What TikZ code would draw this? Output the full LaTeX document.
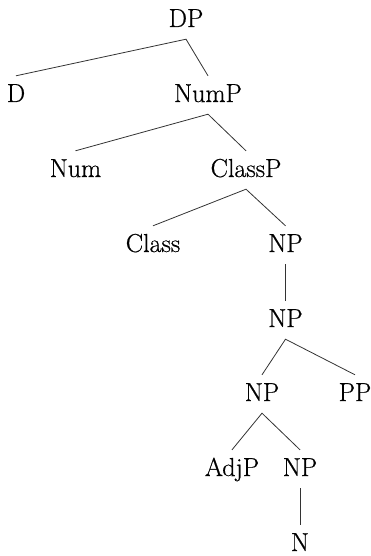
\documentclass[tikz,border=0pt]{standalone}
\usepackage{fontspec}
\newfontfamily\treefont[FakeBold=0.6]{Latin Modern Roman}
\begin{document}
\begin{tikzpicture}[x=1pt,y=1pt,
  lab/.style={anchor=base,inner xsep=0pt,inner ysep=12pt,text height=14pt,text depth=0pt,font=\treefont\fontsize{26}{30}\selectfont},
  br/.style={line width=0.8pt,draw=black!80}]
\useasboundingbox (0,0) rectangle (370,-556);
\node[lab] (DP) at (186,-27) {DP};
\node[lab] (D) at (16,-102) {D};
\node[lab] (NumP) at (208,-102) {NumP};
\node[lab] (Num) at (75.5,-177) {Num};
\node[lab] (ClassP) at (246,-177) {ClassP};
\node[lab] (Class) at (153,-252) {Class};
\node[lab] (NPa) at (285.5,-252) {NP};
\node[lab] (NPb) at (285.5,-327) {NP};
\node[lab] (NPc) at (262,-401) {NP};
\node[lab] (PP) at (355,-401) {PP};
\node[lab] (AdjP) at (232,-476) {AdjP};
\node[lab] (NPd) at (300,-476) {NP};
\node[lab] (N) at (300,-551) {N};
\draw[br] (D.north) -- (DP.south) -- (NumP.north);
\draw[br] (Num.north) -- (NumP.south) -- (ClassP.north);
\draw[br] (Class.north) -- (ClassP.south) -- (NPa.north);
\draw[br] (NPa.south) -- (NPb.north);
\draw[br] (NPc.north) -- (NPb.south) -- (PP.north);
\draw[br] (AdjP.north) -- (NPc.south) -- (NPd.north);
\draw[br] (NPd.south) -- (N.north);
\end{tikzpicture}
\end{document}
